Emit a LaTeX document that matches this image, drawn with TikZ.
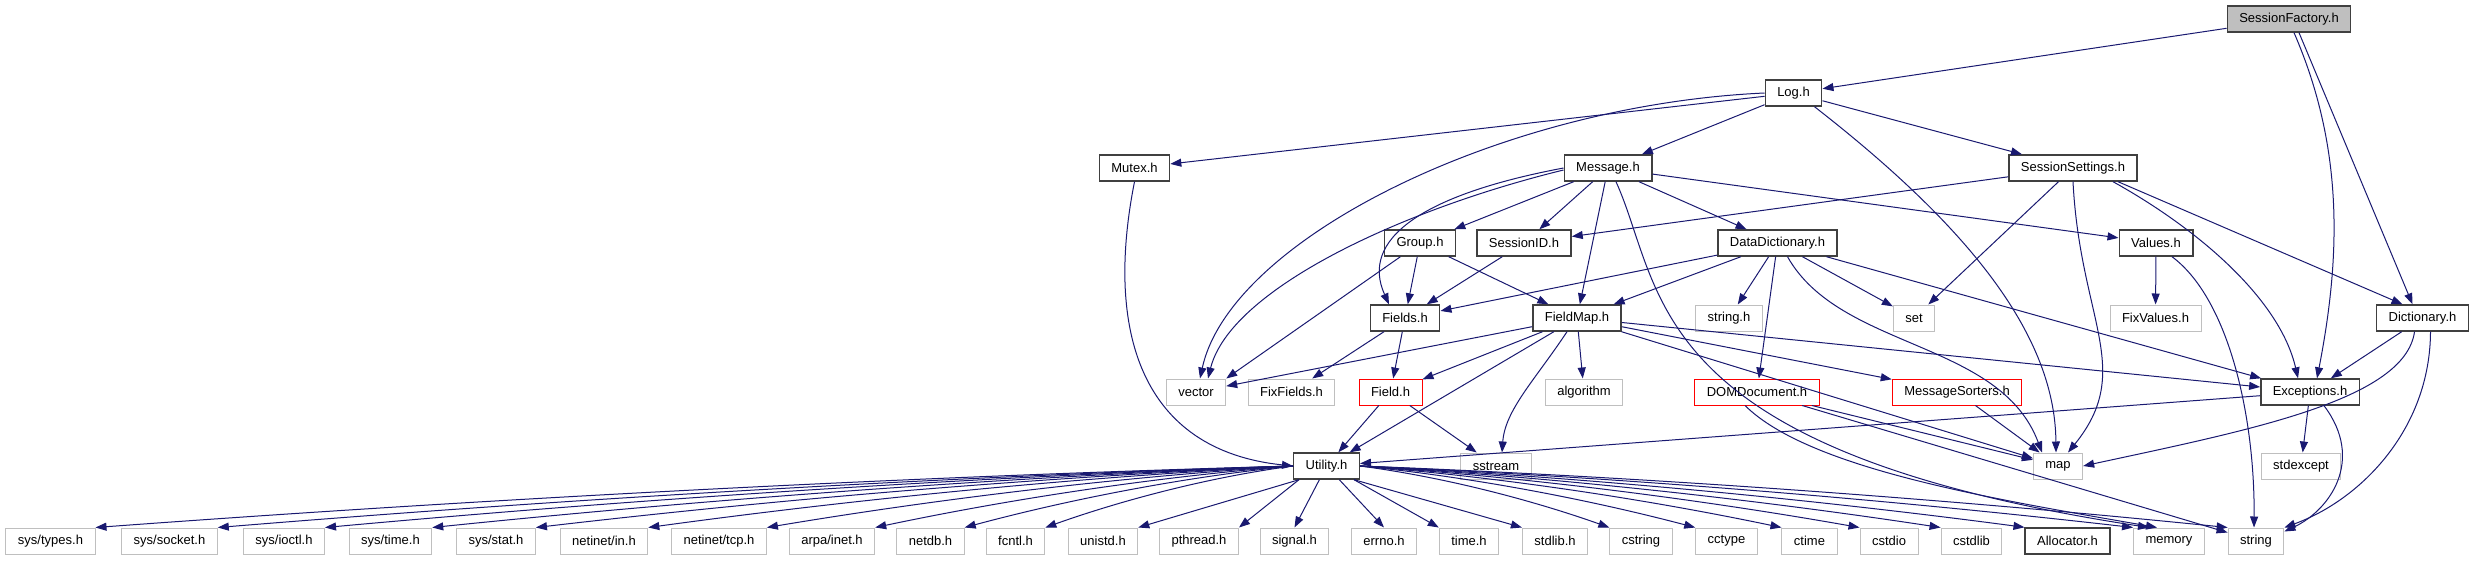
\documentclass[tikz,border=0pt]{standalone}
\usepackage{fontspec}
\setmainfont{Liberation Sans}
\usetikzlibrary{arrows.meta,calc}
\definecolor{edgeblue}{RGB}{25,25,112}
\definecolor{sysgray}{RGB}{191,191,191}
\definecolor{rootgray}{RGB}{191,191,191}
\definecolor{frame}{RGB}{64,64,64}
\tikzset{
  >={Triangle[length=11pt,width=8pt]},
  hdr/.style={draw=#1,fill=white,line width=1.4pt,minimum height=26pt,
    inner xsep=12pt,inner ysep=0pt,font=\fontsize{13}{15}\selectfont},
  hdr/.default=frame,
  sys/.style={hdr=sysgray,line width=1pt},
  cut/.style={hdr=red,line width=1pt},
  root/.style={hdr=frame,fill=rootgray},
  dep/.style={->,draw=edgeblue,line width=1pt},
}

\begin{document}
\begin{tikzpicture}[x=1pt,y=-1pt]
  \useasboundingbox (0,0) rectangle (2473,560);
  % project headers
  \node[root] (sfactory) at (2289,19) {SessionFactory.h};
  \node[hdr] (log) at (1793.5,93) {Log.h};
  \node[hdr] (mutex) at (1134.5,168) {Mutex.h};
  \node[hdr] (message) at (1608,168) {Message.h};
  \node[hdr] (ssettings) at (2073,168) {SessionSettings.h};
  \node[hdr] (group) at (1420,243) {Group.h};
  \node[hdr] (sessionid) at (1524,243) {SessionID.h};
  \node[hdr] (ddict) at (1777.5,243) {DataDictionary.h};
  \node[hdr] (values) at (2156,243) {Values.h};
  \node[hdr] (fields) at (1405,318) {Fields.h};
  \node[hdr] (fieldmap) at (1577,318) {FieldMap.h};
  \node[sys] (stringh) at (1729,318) {string.h};
  \node[sys] (setlib) at (1914,318) {set};
  \node[sys] (fixvalues) at (2155.5,318) {FixValues.h};
  \node[hdr] (dictionary) at (2422.5,318) {Dictionary.h};
  \node[sys] (vector) at (1196,392) {vector};
  \node[sys] (fixfields) at (1291.5,392) {FixFields.h};
  \node[cut] (field) at (1390.5,392) {Field.h};
  \node[sys] (algorithm) at (1584,392) {algorithm};
  \node[cut] (domdoc) at (1757,392) {DOMDocument.h};
  \node[cut] (msorters) at (1957,392) {MessageSorters.h};
  \node[hdr] (exceptions) at (2310,392) {Exceptions.h};
  \node[hdr] (utility) at (1326.5,466) {Utility.h};
  \node[sys] (sstream) at (1496,466) {sstream};
  \node[sys] (map) at (2058,466) {map};
  \node[sys] (stdexcept) at (2301,466) {stdexcept};
  % system headers
  \node[sys] (stypes) at (50.5,541) {sys/types.h};
  \node[sys] (ssocket) at (169.5,541) {sys/socket.h};
  \node[sys] (sioctl) at (284,541) {sys/ioctl.h};
  \node[sys] (stime) at (390.5,541) {sys/time.h};
  \node[sys] (sstat) at (496,541) {sys/stat.h};
  \node[sys] (nin) at (604,541) {netinet/in.h};
  \node[sys] (ntcp) at (719,541) {netinet/tcp.h};
  \node[sys] (ainet) at (832,541) {arpa/inet.h};
  \node[sys] (netdb) at (930.5,541) {netdb.h};
  \node[sys] (fcntl) at (1015.5,541) {fcntl.h};
  \node[sys] (unistd) at (1103,541) {unistd.h};
  \node[sys] (pthread) at (1199,541) {pthread.h};
  \node[sys] (signal) at (1294.5,541) {signal.h};
  \node[sys] (errno) at (1384,541) {errno.h};
  \node[sys] (timeh) at (1469,541) {time.h};
  \node[sys] (stdlib) at (1555,541) {stdlib.h};
  \node[sys] (cstring) at (1641,541) {cstring};
  \node[sys] (cctype) at (1726.5,541) {cctype};
  \node[sys] (ctime) at (1809.5,541) {ctime};
  \node[sys] (cstdio) at (1889,541) {cstdio};
  \node[sys] (cstdlib) at (1971.5,541) {cstdlib};
  \node[hdr] (allocator) at (2067.5,541) {Allocator.h};
  \node[sys] (memory) at (2169,541) {memory};
  \node[sys] (string) at (2256,541) {string};

  % SessionFactory.h
  \draw[dep] (sfactory) -- (log);
  \draw[dep] ([xshift=5pt]sfactory.south) .. controls (2345,150) and (2340,260) .. ([xshift=7pt]exceptions.north);
  \draw[dep] ([xshift=10pt]sfactory.south) -- ([xshift=-10pt]dictionary.north);
  % Log.h
  \draw[dep] (log) -- (mutex);
  \draw[dep] (log) -- (message);
  \draw[dep] (log) -- (ssettings);
  \draw[dep] (log.west) .. controls (1500,105) and (1230,240) .. ([xshift=4pt]vector.north);
  \draw[dep] ([xshift=-8pt]log.south east) .. controls (1960,220) and (2055,330) .. ([xshift=-2pt]map.north);
  % Message.h
  \draw[dep] (message) -- (group);
  \draw[dep] (message) -- (sessionid);
  \draw[dep] (message) -- (fieldmap);
  \draw[dep] (message) -- (ddict);
  \draw[dep] (message) -- (values);
  \draw[dep] (message.west) .. controls (1420,195) and (1360,240) .. ([xshift=-16pt]fields.north);
  \draw[dep] ([yshift=-2pt]message.west) .. controls (1400,210) and (1230,290) .. ([xshift=12pt]vector.north);
  \draw[dep] ([xshift=8pt]message.south) .. controls (1665,290) and (1640,450) .. ([xshift=-20pt]memory.north);
  % SessionSettings.h
  \draw[dep] (ssettings) -- (sessionid);
  \draw[dep] (ssettings) -- (setlib);
  \draw[dep] (ssettings.south) .. controls (2080,320) and (2135,370) .. ([xshift=10pt]map.north);
  \draw[dep] ([xshift=40pt]ssettings.south) .. controls (2200,230) and (2280,300) .. ([xshift=-12pt]exceptions.north);
  \draw[dep] ([xshift=45pt]ssettings.south) -- ([xshift=-20pt]dictionary.north);
  % Mutex.h
  \draw[dep] (mutex.south) .. controls (1105,330) and (1140,450) .. (utility.west);
  % Group.h, SessionID.h
  \draw[dep] (group) -- (fields);
  \draw[dep] (group) -- (fieldmap);
  \draw[dep] (group) -- (vector.north east);
  \draw[dep] (sessionid) -- (fields);
  % DataDictionary.h
  \draw[dep] (ddict) -- (fields);
  \draw[dep] (ddict) -- (fieldmap);
  \draw[dep] (ddict) -- (stringh);
  \draw[dep] (ddict) -- (setlib);
  \draw[dep] (ddict) -- (domdoc);
  \draw[dep] (ddict) -- (exceptions);
  \draw[dep] ([xshift=10pt]ddict.south) .. controls (1840,350) and (2000,340) .. ([xshift=-16pt]map.north);
  % Values.h, Dictionary.h
  \draw[dep] (values) -- (fixvalues);
  \draw[dep] ([xshift=16pt]values.south) .. controls (2230,300) and (2255,420) .. ([xshift=-2pt]string.north);
  \draw[dep] (dictionary) -- (exceptions);
  \draw[dep] ([xshift=-8pt]dictionary.south) .. controls (2405,400) and (2250,430) .. (map.east);
  \draw[dep] ([xshift=8pt]dictionary.south) .. controls (2430,430) and (2360,500) .. (string.north east);
  % Fields.h, FieldMap.h
  \draw[dep] (fields) -- (field);
  \draw[dep] (fields) -- (fixfields);
  \draw[dep] (fieldmap) -- (vector);
  \draw[dep] (fieldmap) -- (field);
  \draw[dep] (fieldmap) -- (utility);
  \draw[dep] ([xshift=-10pt]fieldmap.south) .. controls (1535,380) and (1505,410) .. ([xshift=6pt]sstream.north);
  \draw[dep] (fieldmap) -- (algorithm);
  \draw[dep] (fieldmap) -- (msorters);
  \draw[dep] (fieldmap) -- (map);
  \draw[dep] (fieldmap) -- (exceptions);
  % Field.h, DOMDocument.h, MessageSorters.h
  \draw[dep] (field) -- (utility);
  \draw[dep] (field) -- (sstream);
  \draw[dep] (domdoc) -- (map);
  \draw[dep] ([xshift=-12pt]domdoc.south) .. controls (1810,470) and (2000,500) .. ([xshift=-12pt]memory.north);
  \draw[dep] (domdoc) -- (string);
  \draw[dep] (msorters) -- (map);
  % Exceptions.h
  \draw[dep] (exceptions) -- (utility);
  \draw[dep] (exceptions) -- (stdexcept);
  \draw[dep] ([xshift=14pt]exceptions.south) .. controls (2365,460) and (2330,510) .. ([yshift=-4pt]string.north east);
  % Utility.h
  \foreach \t in {stypes,ssocket,sioctl,stime,sstat,nin,ntcp,ainet,netdb,fcntl}
    \draw[dep] (utility.west) .. controls ($(utility.west)!0.35!(\t.north east)+(0,-10)$)
      and ($(utility.west)!0.7!(\t.north east)+(0,-8)$) .. (\t.north east);
  \foreach \t in {unistd,pthread}
    \draw[dep] ([xshift=6pt]utility.south west) -- (\t.north east);
  \foreach \t in {signal,errno}
    \draw[dep] (utility) -- (\t.north);
  \foreach \t in {timeh,stdlib}
    \draw[dep] ([xshift=-6pt]utility.south east) -- (\t.north west);
  \foreach \t in {cstring,cctype,ctime,cstdio,cstdlib,allocator,memory,string}
    \draw[dep] (utility.east) .. controls ($(utility.east)!0.35!(\t.north west)+(0,-10)$)
      and ($(utility.east)!0.7!(\t.north west)+(0,-8)$) .. (\t.north west);
\end{tikzpicture}
\end{document}
